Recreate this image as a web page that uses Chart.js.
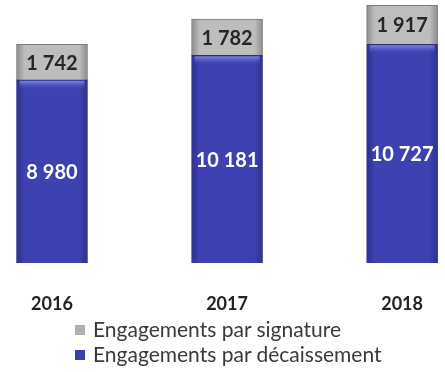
<!DOCTYPE html>
<html>
<head>
<meta charset="utf-8">
<script src="https://cdn.jsdelivr.net/npm/chart.js@4.4.1/dist/chart.umd.min.js"></script>
<style>
  html, body { margin: 0; padding: 0; background: #fff; }
  #wrap { position: relative; width: 445px; height: 372px; }
  #legend { position: absolute; left: 75px; top: 316px; font: 21px Lato, sans-serif; color: #3a3a3a; line-height: 25px; }
  #legend .item { display: flex; align-items: center; white-space: nowrap; }
  #legend .box { width: 10px; height: 10px; margin-right: 8px; margin-top: 2px; }
</style>
</head>
<body>
<div id="wrap">
  <canvas id="chart" width="445" height="372"></canvas>
  <div id="legend"></div>
</div>
<script>
// données (en millions)
const years = ["2016", "2017", "2018"];
const decaissement = [8980, 10181, 10727];
const signature = [1742, 1782, 1917];

const fmt = v => String(v).replace(/\B(?=(\d{3})+(?!\d))/g, " ");

// dégradé horizontal pour l'effet "relief" des barres
function barFill(edge, mid) {
  return ctx => {
    const chart = ctx.chart;
    const xs = chart.scales.x;
    if (!xs || ctx.dataIndex == null) return mid;
    const cx = xs.getPixelForValue(ctx.dataIndex);
    if (!isFinite(cx)) return mid;
    const g = chart.ctx.createLinearGradient(cx - 36, 0, cx + 36, 0);
    g.addColorStop(0, edge);
    g.addColorStop(0.12, mid);
    g.addColorStop(0.88, mid);
    g.addColorStop(1, edge);
    return g;
  };
}

// étiquettes de valeur au centre de chaque segment
const valueLabels = {
  id: "valueLabels",
  afterDatasetsDraw(chart) {
    const c = chart.ctx;
    c.save();
    c.textAlign = "center";
    c.textBaseline = "middle";
    chart.data.datasets.forEach((ds, i) => {
      chart.getDatasetMeta(i).data.forEach((bar, j) => {
        const { x, y, base } = bar.getProps(["x", "y", "base"], true);
        c.font = "bold 20px Lato, sans-serif";
        c.fillStyle = ds.labelColor;
        c.fillText(fmt(ds.data[j]), x, (y + base) / 2 + 1);
      });
    });
    c.restore();
  }
};

// bande claire en haut du segment bleu
const highlight = {
  id: "highlight",
  afterDatasetDraw(chart, args) {
    if (args.index !== 0) return;
    const c = chart.ctx;
    c.save();
    args.meta.data.forEach(bar => {
      const { x, y, width } = bar.getProps(["x", "y", "width"], true);
      const g = c.createLinearGradient(0, y, 0, y + 9);
      g.addColorStop(0, "rgba(150,160,235,0.9)");
      g.addColorStop(1, "rgba(80,86,200,0)");
      c.fillStyle = g;
      c.fillRect(x - width / 2 + 3, y + 1, width - 6, 9);
    });
    c.restore();
  }
};

const chart = new Chart(document.getElementById("chart"), {
  type: "bar",
  data: {
    labels: years,
    datasets: [
      {
        label: "Engagements par décaissement",
        data: decaissement,
        backgroundColor: barFill("#2c2e8c", "#3e41b2"),
        borderColor: "#2a2d80",
        borderWidth: 1,
        labelColor: "#ffffff",
        legendColor: "#3a3db0",
        barThickness: 71,
        clip: false
      },
      {
        label: "Engagements par signature",
        data: signature,
        backgroundColor: barFill("#8a8a8a", "#bdbdbd"),
        borderColor: "#7a7a7a",
        borderWidth: 1,
        labelColor: "#262626",
        legendColor: "#b0b0b0",
        barThickness: 71,
        clip: false
      }
    ]
  },
  options: {
    responsive: false,
    animation: false,
    layout: { padding: { left: 52, right: 37, top: 0, bottom: 0 } },
    plugins: {
      legend: { display: false },
      tooltip: { enabled: false }
    },
    scales: {
      x: {
        stacked: true,
        offset: false,
        grid: { display: false },
        border: { display: false },
        ticks: {
          autoSkip: false,
          maxRotation: 0,
          padding: 22,
          color: "#222",
          font: { family: "Lato, sans-serif", size: 18, weight: "bold" }
        },
        afterFit: s => { s.height = 109; }
      },
      y: {
        stacked: true,
        display: false,
        min: 0,
        max: 12900
      }
    }
  },
  plugins: [highlight, valueLabels]
});

// légende (signature au-dessus, décaissement en dessous)
const legendDiv = document.getElementById("legend");
chart.data.datasets.slice().reverse().forEach(ds => {
  const item = document.createElement("div");
  item.className = "item";
  item.innerHTML = `<span class="box" style="background:${ds.legendColor}"></span>${ds.label}`;
  legendDiv.appendChild(item);
});
</script>
</body>
</html>
